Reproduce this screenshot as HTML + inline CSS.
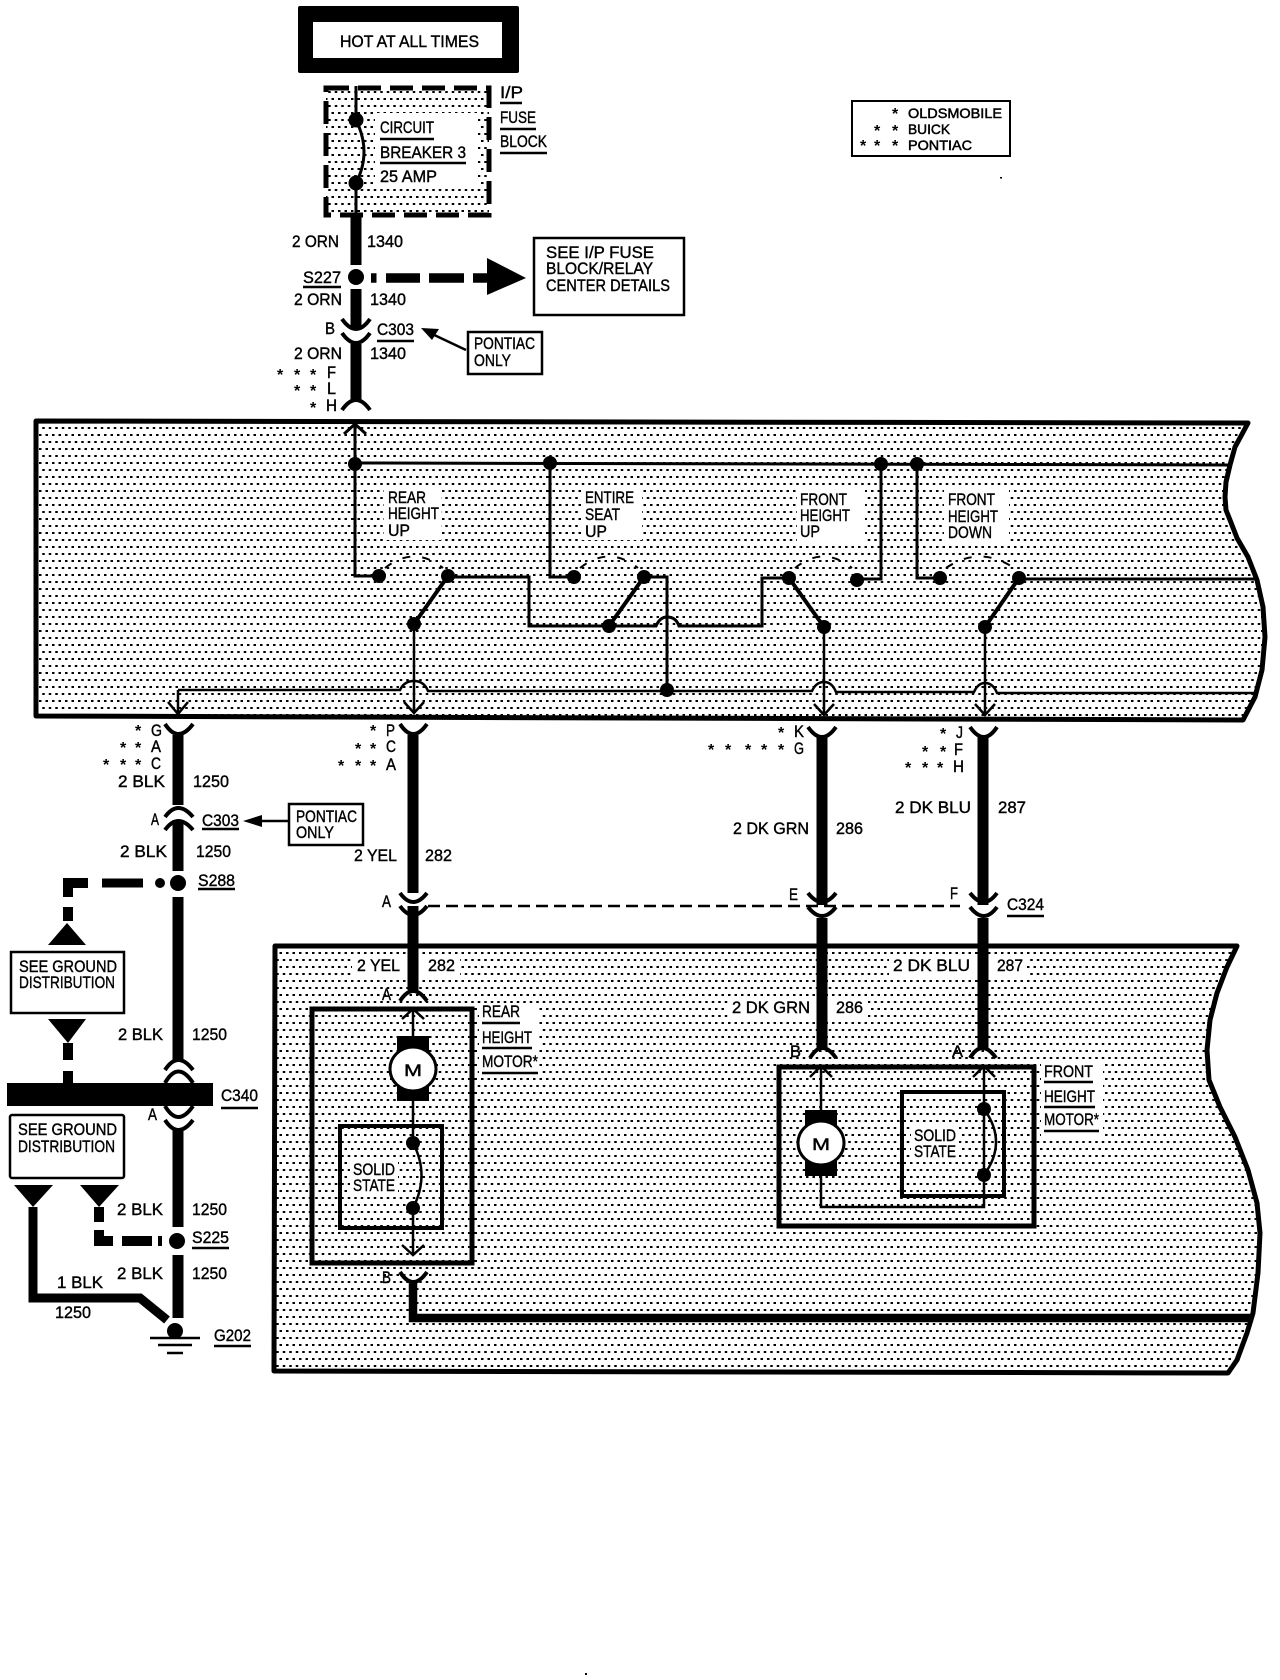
<!DOCTYPE html>
<html>
<head>
<meta charset="utf-8">
<style>
html,body{margin:0;padding:0;background:#fff}
svg{display:block}
text{font-family:"Liberation Sans",sans-serif;font-size:16.5px;fill:#000;stroke:#000;stroke-width:.4px}
text.l{font-size:14px;stroke-width:.5px}
text.s{font-size:16px;font-weight:bold;stroke:none}
.w{fill:none;stroke:#000;stroke-width:3}
.n{fill:none;stroke:#000;stroke-width:2.5}
.t{fill:none;stroke:#000;stroke-width:11}
.c{fill:none;stroke:#000;stroke-width:4}
.u{fill:none;stroke:#000;stroke-width:2.5}
.d{fill:none;stroke:#000;stroke-width:2;stroke-dasharray:8 12}
.h{fill:#fff;stroke:none}
</style>
</head>
<body>
<svg width="1280" height="1680" viewBox="0 0 1280 1680" xmlns="http://www.w3.org/2000/svg">
<defs>
<pattern id="p" width="13" height="14" patternUnits="userSpaceOnUse"><rect x="0" y="0" width="2.5" height="2"/><rect x="6.500" y="0" width="2.500" height="2"/><rect x="3.250" y="7" width="2.500" height="2"/><rect x="9.750" y="7" width="2.500" height="2"/></pattern>
</defs>

<!-- HOT AT ALL TIMES -->
<rect x="298" y="6" width="221" height="67" rx="2"/>
<rect x="313" y="22" width="189" height="36" fill="#fff"/>
<text x="340" y="47" textLength="139" lengthAdjust="spacingAndGlyphs">HOT AT ALL TIMES</text>

<!-- Fuse block -->
<rect x="326" y="88" width="163" height="127" fill="url(#p)"/>
<rect x="375" y="113" width="103" height="73" fill="#fff"/>
<rect x="326" y="88" width="163" height="127" fill="none" stroke="#000" stroke-width="5" stroke-dasharray="23 9"/>
<path class="w" d="M356 86V120M356 183V214M356 120Q372 152 356 183"/>
<circle cx="356" cy="120" r="7.5"/><circle cx="356" cy="183" r="7.5"/>
<text x="380" y="133" textLength="54" lengthAdjust="spacingAndGlyphs">CIRCUIT</text>
<path class="u" d="M380 139H434M380 163H466M500 103H522M500 129H536M500 153H547"/>
<text x="380" y="158" textLength="86" lengthAdjust="spacingAndGlyphs">BREAKER 3</text>
<text x="380" y="182" textLength="57" lengthAdjust="spacingAndGlyphs">25 AMP</text>
<text x="500" y="98" textLength="23" lengthAdjust="spacingAndGlyphs">I/P</text>
<text x="500" y="123" textLength="36" lengthAdjust="spacingAndGlyphs">FUSE</text>
<text x="500" y="147" textLength="47" lengthAdjust="spacingAndGlyphs">BLOCK</text>

<!-- Top wire -->
<path class="t" d="M356 213V265M356 289V328M356 344V402"/>
<circle cx="356" cy="277" r="8"/>
<path class="c" d="M342 319q14 20 28 0M342 333q14 20 28 0M342 410q14-20 28 0"/>
<text x="292" y="247" textLength="47" lengthAdjust="spacingAndGlyphs">2 ORN</text>
<text x="367" y="247" textLength="36" lengthAdjust="spacingAndGlyphs">1340</text>
<text x="303" y="283" textLength="38" lengthAdjust="spacingAndGlyphs">S227</text>
<path class="u" d="M303 287H341M377 341H414"/>
<text x="294" y="305" textLength="48" lengthAdjust="spacingAndGlyphs">2 ORN</text>
<text x="370" y="305" textLength="36" lengthAdjust="spacingAndGlyphs">1340</text>
<text x="325" y="334" textLength="10" lengthAdjust="spacingAndGlyphs">B</text>
<text x="377" y="335" textLength="37" lengthAdjust="spacingAndGlyphs">C303</text>
<text x="294" y="359" textLength="48" lengthAdjust="spacingAndGlyphs">2 ORN</text>
<text x="370" y="359" textLength="36" lengthAdjust="spacingAndGlyphs">1340</text>
<text class="s" x="277 294 310" y="380">***</text><text x="327" y="378" textLength="9" lengthAdjust="spacingAndGlyphs">F</text>
<text class="s" x="294 310" y="396">**</text><text x="327" y="394" textLength="9" lengthAdjust="spacingAndGlyphs">L</text>
<text class="s" x="310" y="413">*</text><text x="326" y="411" textLength="11" lengthAdjust="spacingAndGlyphs">H</text>

<!-- Dashed arrow to SEE box -->
<path d="M371 278h5.500M386 278h34M429 278h35M473 278h14" fill="none" stroke="#000" stroke-width="9.500"/>
<path d="M487 258L526 278L487 295Z"/>
<rect x="534" y="238" width="150" height="77" fill="#fff" stroke="#000" stroke-width="2.500"/>
<text x="546" y="258" textLength="108" lengthAdjust="spacingAndGlyphs">SEE I/P FUSE</text>
<text x="546" y="274" textLength="107" lengthAdjust="spacingAndGlyphs">BLOCK/RELAY</text>
<text x="546" y="291" textLength="124" lengthAdjust="spacingAndGlyphs">CENTER DETAILS</text>

<!-- Pontiac only 1 -->
<rect x="468" y="332" width="74" height="42" fill="#fff" stroke="#000" stroke-width="2.500"/>
<text x="474" y="349" textLength="61" lengthAdjust="spacingAndGlyphs">PONTIAC</text>
<text x="474" y="366" textLength="37" lengthAdjust="spacingAndGlyphs">ONLY</text>
<path class="u" d="M466 350L430 333"/><path d="M421 328L439 329L432 340Z"/>

<!-- Legend -->
<rect x="852" y="101" width="158" height="55" fill="#fff" stroke="#000" stroke-width="2"/>
<text class="l" x="908" y="118" textLength="94" lengthAdjust="spacingAndGlyphs">OLDSMOBILE</text>
<text class="l" x="908" y="134" textLength="42" lengthAdjust="spacingAndGlyphs">BUICK</text>
<text class="l" x="908" y="150" textLength="64" lengthAdjust="spacingAndGlyphs">PONTIAC</text>
<text class="s" x="892" y="119">*</text><text class="s" x="874 892" y="136">**</text><text class="s" x="860 874 892" y="151">***</text>
<rect x="1000" y="177" width="2" height="1.500"/><rect x="585" y="1673" width="2" height="2"/>

<!-- Upper panel -->
<path d="M36 421L1248 423L1241 436L1235 447L1230 465L1226 482L1225 497L1226 510L1230 520L1237 538L1248 557L1257 580L1263 607L1265 637L1262 670L1255 697L1243 720L36 716Z" fill="url(#p)" stroke="#000" stroke-width="5" stroke-linejoin="round"/>
<rect x="384" y="488" width="57" height="52" class="h"/>
<rect x="581" y="488" width="61" height="52" class="h"/>
<rect x="797" y="490" width="68" height="52" class="h"/>
<rect x="944" y="490" width="65" height="52" class="h"/>
<text x="388" y="503" textLength="38" lengthAdjust="spacingAndGlyphs">REAR</text>
<text x="388" y="519" textLength="51" lengthAdjust="spacingAndGlyphs">HEIGHT</text>
<text x="388" y="536" textLength="22" lengthAdjust="spacingAndGlyphs">UP</text>
<text x="585" y="503" textLength="49" lengthAdjust="spacingAndGlyphs">ENTIRE</text>
<text x="585" y="520" textLength="35" lengthAdjust="spacingAndGlyphs">SEAT</text>
<text x="585" y="537" textLength="22" lengthAdjust="spacingAndGlyphs">UP</text>
<text x="800" y="505" textLength="47" lengthAdjust="spacingAndGlyphs">FRONT</text>
<text x="800" y="521" textLength="50" lengthAdjust="spacingAndGlyphs">HEIGHT</text>
<text x="800" y="537" textLength="20" lengthAdjust="spacingAndGlyphs">UP</text>
<text x="948" y="505" textLength="47" lengthAdjust="spacingAndGlyphs">FRONT</text>
<text x="948" y="522" textLength="50" lengthAdjust="spacingAndGlyphs">HEIGHT</text>
<text x="948" y="538" textLength="44" lengthAdjust="spacingAndGlyphs">DOWN</text>

<!-- Upper panel wiring -->
<path class="w" d="M355 463L1230 465"/>
<path class="w" d="M355 424V576H379M344 434L355 424L366 434M448 577H529V626H656Q660 617 667 617Q676 617 679 626H762V578H789M550 463V577H574M644 577H667V690M857 579H881V464M917 464V578H940M1019 579H1257"/>
<path class="n" d="M178 690H400Q404 681 414 681Q424 681 428 691H812Q816 682 824 682Q832 682 836 692H974Q978 683 985 683Q993 683 997 693L1257 693"/>
<path class="n" d="M178 690V714M168 702L178 714L188 702M414 624V713M404 702L414 713L424 702M824 627V715M814 704L824 715L834 704M985 627V715M975 704L985 715L995 704"/>
<path class="w" style="stroke-width:4" d="M414 624L448 576M609 626L644 577M824 627L789 578M985 627L1019 578"/>
<path class="d" d="M385 568Q414 545 443 568M580 568Q609 545 638 568M795 568Q823 545 852 568M946 568Q980 545 1014 568"/>
<circle cx="355" cy="464" r="7"/><circle cx="550" cy="463" r="7"/><circle cx="881" cy="464" r="7"/><circle cx="917" cy="464" r="7"/>
<circle cx="379" cy="576" r="7"/><circle cx="448" cy="576" r="7"/><circle cx="414" cy="624" r="7"/>
<circle cx="574" cy="577" r="7"/><circle cx="644" cy="577" r="7"/><circle cx="609" cy="626" r="7"/>
<circle cx="789" cy="578" r="7"/><circle cx="857" cy="580" r="7"/><circle cx="824" cy="627" r="7"/>
<circle cx="940" cy="578" r="7"/><circle cx="1019" cy="578" r="7"/><circle cx="985" cy="627" r="7"/>
<circle cx="667" cy="690" r="7"/>

<!-- Lower panel -->
<path d="M275 946L1237 946L1227 967L1217 993L1210 1020L1207 1050L1209 1080L1220 1107L1235 1137L1248 1170L1257 1203L1260 1233L1258 1273L1253 1313L1247 1333L1237 1360L1228 1373L274 1371Z" fill="url(#p)" stroke="#000" stroke-width="5" stroke-linejoin="round"/>
<rect x="352" y="956" width="108" height="20" class="h"/><rect x="889" y="956" width="138" height="20" class="h"/><rect x="728" y="998" width="140" height="20" class="h"/>
<rect x="479" y="1005" width="60" height="72" class="h"/><rect x="1041" y="1062" width="62" height="74" class="h"/>

<!-- Columns below upper panel -->
<path class="c" d="M165 724q13 20 28 0M400 724q13 20 27 0M808 727q14 20 28 0M970 727q14 20 27 0"/>
<path class="t" d="M178 735V805M178 820V871M178 897V1060M178 1128V1227M178 1255V1318M413 735V893M413 906V990M822 735V905M822 918V1048M983 735V905M983 918V1048"/>
<path class="c" d="M165 817q13-18 28 0M165 830q13-18 28 0"/>
<path class="c" d="M165 1070q13-20 28 0M165 1083q13-23 28 0M165 1106q13 22 28 0M165 1120q13 20 28 0"/>
<path class="c" d="M400 893q13 18 27 0M400 906q13 18 27 0M808 893q14 18 28 0M808 907q14 18 28 0M970 893q14 18 27 0M970 907q14 18 27 0"/>
<path d="M428 906H960" fill="none" stroke="#000" stroke-width="2.500" stroke-dasharray="12 6"/>

<circle cx="178" cy="883" r="8"/><circle cx="177" cy="1241" r="8"/><circle cx="175" cy="1331" r="8"/>
<path class="u" d="M150 1338H200M158 1345H192M167 1353H183"/>

<text class="s" x="135" y="736">*</text><text x="151" y="736" textLength="11" lengthAdjust="spacingAndGlyphs">G</text>
<text class="s" x="120 135" y="753">**</text><text x="151" y="752" textLength="10" lengthAdjust="spacingAndGlyphs">A</text>
<text class="s" x="103 120 135" y="770">***</text><text x="151" y="769" textLength="10" lengthAdjust="spacingAndGlyphs">C</text>
<text x="118" y="787" textLength="47" lengthAdjust="spacingAndGlyphs">2 BLK</text>
<text x="193" y="787" textLength="36" lengthAdjust="spacingAndGlyphs">1250</text>
<text x="151" y="825" textLength="8" lengthAdjust="spacingAndGlyphs">A</text>
<text x="202" y="826" textLength="37" lengthAdjust="spacingAndGlyphs">C303</text>
<path class="u" d="M202 829H239M198 889H235M221 1108H258M192 1248H229M214 1346H251"/>
<rect x="289" y="804" width="74" height="41" fill="#fff" stroke="#000" stroke-width="2.500"/>
<text x="296" y="822" textLength="61" lengthAdjust="spacingAndGlyphs">PONTIAC</text>
<text x="296" y="838" textLength="38" lengthAdjust="spacingAndGlyphs">ONLY</text>
<path class="u" d="M289 821H255"/><path d="M243 821L262 815V827Z"/>
<text x="120" y="857" textLength="47" lengthAdjust="spacingAndGlyphs">2 BLK</text>
<text x="196" y="857" textLength="35" lengthAdjust="spacingAndGlyphs">1250</text>
<text x="198" y="886" textLength="37" lengthAdjust="spacingAndGlyphs">S288</text>

<!-- Ground dash -->
<path d="M102 883H143" fill="none" stroke="#000" stroke-width="9"/><circle cx="160" cy="883" r="5"/>
<path d="M88 883H68V897M68 907V921" fill="none" stroke="#000" stroke-width="10"/>
<path d="M48 945H86L67 923Z"/>
<rect x="11" y="952" width="113" height="61" fill="#fff" stroke="#000" stroke-width="2.500"/>
<text x="19" y="972" textLength="98" lengthAdjust="spacingAndGlyphs">SEE GROUND</text>
<text x="19" y="988" textLength="96" lengthAdjust="spacingAndGlyphs">DISTRIBUTION</text>
<path d="M48 1019H86L68 1043Z"/>
<path d="M68 1043V1060M68 1071V1083" fill="none" stroke="#000" stroke-width="10"/>
<rect x="7" y="1083" width="206" height="23"/>
<text x="118" y="1040" textLength="45" lengthAdjust="spacingAndGlyphs">2 BLK</text>
<text x="192" y="1040" textLength="35" lengthAdjust="spacingAndGlyphs">1250</text>
<text x="221" y="1101" textLength="37" lengthAdjust="spacingAndGlyphs">C340</text>
<text x="148" y="1120" textLength="9" lengthAdjust="spacingAndGlyphs">A</text>
<rect x="10" y="1115" width="114" height="63" rx="2" fill="#fff" stroke="#000" stroke-width="2.500"/>
<text x="18" y="1135" textLength="99" lengthAdjust="spacingAndGlyphs">SEE GROUND</text>
<text x="18" y="1152" textLength="97" lengthAdjust="spacingAndGlyphs">DISTRIBUTION</text>
<path d="M14 1185H53L33 1207ZM80 1185H119L99 1207Z"/>
<path d="M33 1207V1298H140L167 1320" fill="none" stroke="#000" stroke-width="9"/>
<path d="M99 1207V1222M99 1230V1241H113M122 1241H152" fill="none" stroke="#000" stroke-width="10"/>
<rect x="158" y="1236" width="4" height="10"/>
<text x="117" y="1215" textLength="46" lengthAdjust="spacingAndGlyphs">2 BLK</text>
<text x="192" y="1215" textLength="35" lengthAdjust="spacingAndGlyphs">1250</text>
<text x="192" y="1243" textLength="37" lengthAdjust="spacingAndGlyphs">S225</text>
<text x="117" y="1279" textLength="46" lengthAdjust="spacingAndGlyphs">2 BLK</text>
<text x="192" y="1279" textLength="35" lengthAdjust="spacingAndGlyphs">1250</text>
<text x="57" y="1288" textLength="46" lengthAdjust="spacingAndGlyphs">1 BLK</text>
<text x="55" y="1318" textLength="36" lengthAdjust="spacingAndGlyphs">1250</text>
<text x="214" y="1341" textLength="37" lengthAdjust="spacingAndGlyphs">G202</text>

<!-- P column labels -->
<text class="s" x="370" y="736">*</text><text x="386" y="736" textLength="9" lengthAdjust="spacingAndGlyphs">P</text>
<text class="s" x="355 370" y="754">**</text><text x="386" y="752" textLength="10" lengthAdjust="spacingAndGlyphs">C</text>
<text class="s" x="338 355 370" y="771">***</text><text x="386" y="770" textLength="10" lengthAdjust="spacingAndGlyphs">A</text>
<text x="354" y="861" textLength="43" lengthAdjust="spacingAndGlyphs">2 YEL</text>
<text x="425" y="861" textLength="27" lengthAdjust="spacingAndGlyphs">282</text>
<text x="382" y="907" textLength="9" lengthAdjust="spacingAndGlyphs">A</text>

<!-- K column labels -->
<text class="s" x="778" y="738">*</text><text x="794" y="737" textLength="10" lengthAdjust="spacingAndGlyphs">K</text>
<text class="s" x="708 725 745 761 778" y="755">*****</text><text x="794" y="754" textLength="10" lengthAdjust="spacingAndGlyphs">G</text>
<text class="s" x="940" y="739">*</text><text x="956" y="738" textLength="7" lengthAdjust="spacingAndGlyphs">J</text>
<text class="s" x="922 940" y="757">**</text><text x="954" y="755" textLength="9" lengthAdjust="spacingAndGlyphs">F</text>
<text class="s" x="905 922 937" y="773">***</text><text x="953" y="772" textLength="11" lengthAdjust="spacingAndGlyphs">H</text>
<text x="733" y="834" textLength="76" lengthAdjust="spacingAndGlyphs">2 DK GRN</text>
<text x="836" y="834" textLength="27" lengthAdjust="spacingAndGlyphs">286</text>
<text x="895" y="813" textLength="76" lengthAdjust="spacingAndGlyphs">2 DK BLU</text>
<text x="998" y="813" textLength="28" lengthAdjust="spacingAndGlyphs">287</text>
<text x="789" y="900" textLength="9" lengthAdjust="spacingAndGlyphs">E</text>
<text x="950" y="899" textLength="8" lengthAdjust="spacingAndGlyphs">F</text>
<text x="1007" y="910" textLength="37" lengthAdjust="spacingAndGlyphs">C324</text>
<path class="u" d="M1007 916H1044"/>

<!-- Lower panel labels -->
<text x="357" y="971" textLength="43" lengthAdjust="spacingAndGlyphs">2 YEL</text>
<text x="428" y="971" textLength="27" lengthAdjust="spacingAndGlyphs">282</text>
<text x="893" y="971" textLength="77" lengthAdjust="spacingAndGlyphs">2 DK BLU</text>
<text x="997" y="971" textLength="26" lengthAdjust="spacingAndGlyphs">287</text>
<text x="732" y="1013" textLength="78" lengthAdjust="spacingAndGlyphs">2 DK GRN</text>
<text x="836" y="1013" textLength="27" lengthAdjust="spacingAndGlyphs">286</text>
<text x="382" y="1000" textLength="9" lengthAdjust="spacingAndGlyphs">A</text>
<text x="790" y="1057" textLength="11" lengthAdjust="spacingAndGlyphs">B</text>
<text x="952" y="1057" textLength="11" lengthAdjust="spacingAndGlyphs">A</text>
<text x="382" y="1283" textLength="9" lengthAdjust="spacingAndGlyphs">B</text>
<path class="c" d="M400 1001q13-20 27 0M810 1058q12-20 26 0M970 1058q12-20 26 0M400 1272q13 20 27 0"/>

<!-- Rear motor -->
<rect x="312" y="1009" width="160" height="254" fill="none" stroke="#000" stroke-width="5"/>
<path class="n" d="M413 1009V1036M413 1101V1143M413 1143Q430 1175 413 1208M413 1208V1255M402 1019L413 1009L424 1019M402 1245L413 1255L424 1245"/>
<rect x="397" y="1036" width="32" height="65"/>
<ellipse cx="413" cy="1069" rx="23" ry="22" fill="#fff" stroke="#000" stroke-width="3"/>
<text x="404" y="1076" textLength="18" lengthAdjust="spacingAndGlyphs">M</text>
<rect x="340" y="1126" width="102" height="102" fill="none" stroke="#000" stroke-width="4"/>
<circle cx="413" cy="1143" r="7"/><circle cx="413" cy="1208" r="7"/>
<rect x="350" y="1160" width="48" height="35" class="h"/>
<text x="353" y="1175" textLength="42" lengthAdjust="spacingAndGlyphs">SOLID</text>
<text x="353" y="1191" textLength="42" lengthAdjust="spacingAndGlyphs">STATE</text>
<text x="482" y="1017" textLength="38" lengthAdjust="spacingAndGlyphs">REAR</text>
<text x="482" y="1043" textLength="50" lengthAdjust="spacingAndGlyphs">HEIGHT</text>
<text x="482" y="1067" textLength="56" lengthAdjust="spacingAndGlyphs">MOTOR*</text>
<path class="u" d="M482 1023H520M482 1048H532M482 1073H538"/>
<path d="M413 1282V1318H1253" fill="none" stroke="#000" stroke-width="8.500"/>

<!-- Front motor -->
<rect x="779" y="1067" width="255" height="159" fill="none" stroke="#000" stroke-width="5"/>
<path class="n" d="M821 1066V1110M821 1176V1207H984V1066M810 1077L821 1066L832 1077M973 1077L984 1066L995 1077M984 1109Q1008 1142 984 1175"/>
<rect x="805" y="1110" width="32" height="66"/>
<ellipse cx="821" cy="1143" rx="23" ry="22" fill="#fff" stroke="#000" stroke-width="3"/>
<text x="812" y="1150" textLength="18" lengthAdjust="spacingAndGlyphs">M</text>
<rect x="902" y="1092" width="102" height="104" fill="none" stroke="#000" stroke-width="4"/>
<circle cx="984" cy="1109" r="7"/><circle cx="984" cy="1175" r="7"/>
<rect x="911" y="1126" width="48" height="35" class="h"/>
<text x="914" y="1141" textLength="42" lengthAdjust="spacingAndGlyphs">SOLID</text>
<text x="914" y="1157" textLength="42" lengthAdjust="spacingAndGlyphs">STATE</text>
<text x="1044" y="1077" textLength="49" lengthAdjust="spacingAndGlyphs">FRONT</text>
<text x="1044" y="1102" textLength="51" lengthAdjust="spacingAndGlyphs">HEIGHT</text>
<text x="1044" y="1125" textLength="55" lengthAdjust="spacingAndGlyphs">MOTOR*</text>
<path class="u" d="M1044 1082H1093M1044 1107H1095M1044 1131H1099"/>
</svg>
</body>
</html>
